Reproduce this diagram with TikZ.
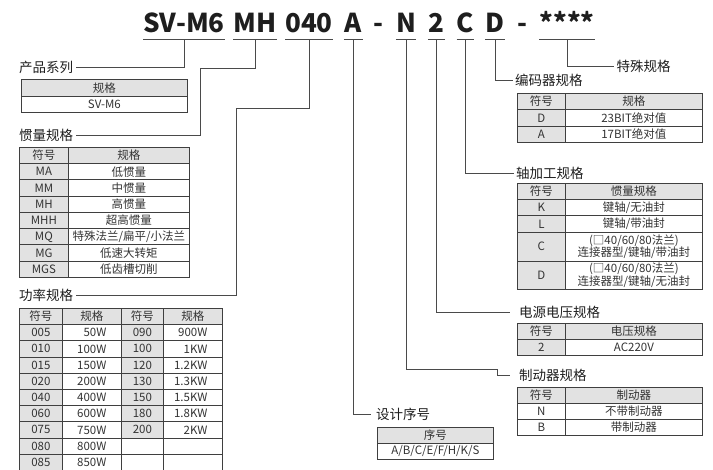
\documentclass[tikz,border=0pt]{standalone}
\usepackage{fontspec}
\setmainfont{Noto Sans CJK SC}
\usepackage{tikz}
\definecolor{codeink}{HTML}{1E1E1E}
\definecolor{tabline}{HTML}{3F3F3F}
\definecolor{tabgray}{HTML}{E2E2E2}
\definecolor{tabink}{HTML}{333333}
\definecolor{leadline}{HTML}{4A4A4A}
\newcommand{\tabfont}{\fontsize{11.5}{12.5}\selectfont}
\newcommand{\lblfont}{\fontsize{13.5}{14}\selectfont}

\begin{document}
\begin{tikzpicture}[x=1pt,y=-1pt,
    code/.style={font=\fontsize{26}{26}\selectfont\bfseries,text=codeink,inner sep=0pt,
      text depth=7pt,anchor=south,minimum width=#1},
    code/.default=0pt,
    uline/.style={draw=leadline,line width=.8pt},
    lead/.style={draw=leadline,line width=.9pt},
    lbl/.style={font=\lblfont,text=codeink,inner sep=2.5pt,anchor=west},
    cell/.style={draw=tabline,line width=.8pt,inner sep=0pt,anchor=north west,
      font=\tabfont,text=tabink,minimum height=16.2pt,align=center},
    gcell/.style={cell,fill=tabgray},
    wcell/.style={cell,fill=white}]
  \useasboundingbox (0,0) rectangle (713,470);

  % model code
  \node[code=72] (hSV) at (184,39.5) {SV-M6};
  \node[code=38] (hMH) at (255,39.5) {MH};
  \node[code=44] (hPW) at (309,39.5) {040};
  \node[code=19] (hDS) at (353.5,39.5) {A};
  \node[code] (hD1) at (378,39.5) {-};
  \node[code=17] (hBK) at (406,39.5) {N};
  \node[code=17] (hVT) at (436.5,39.5) {2};
  \node[code=16] (hSH) at (465.5,39.5) {C};
  \node[code=16] (hEN) at (495,39.5) {D};
  \node[code] (hD2) at (522,39.5) {-};
  \node[code=50] (hSP) at (567,39.5) {****};
  \foreach \n in {hSV,hMH,hPW,hDS,hBK,hVT,hSH,hEN,hSP}
    \draw[uline] (\n.south west) -- (\n.south east);

  % labels
  \node[lbl] (series) at (16.5,67) {产品系列};
  \node[lbl] (inertia) at (16.5,135) {惯量规格};
  \node[lbl] (power) at (16.5,295) {功率规格};
  \node[lbl] (special) at (614,66) {特殊规格};
  \node[lbl] (encoder) at (512.5,80) {编码器规格};
  \node[lbl] (shaft) at (513.5,173) {轴加工规格};
  \node[lbl,inner xsep=9pt] (voltage) at (510,312) {电源电压规格};
  \node[lbl,inner xsep=9pt] (brake) at (510,375) {制动器规格};
  \node[lbl,inner xsep=5pt] (design) at (371,414) {设计序号};

  % leaders
  \coordinate (mhBend) at (200,68);
  \coordinate (pwBend) at (236,108);
  \coordinate (bkBend) at (497,369);
  \draw[lead] (hSV.south) |- (series.east);
  \draw[lead] (hMH.south) |- (mhBend) |- (inertia.east);
  \draw[lead] (hPW.south) |- (pwBend) |- (power.east);
  \draw[lead] (hDS.south) |- (design.west);
  \draw[lead] (hBK.south) |- (bkBend) |- (brake.west);
  \draw[lead] (hVT.south) |- (voltage.west);
  \draw[lead] (hSH.south) |- (shaft.west);
  \draw[lead] (hEN.south) |- (encoder.west);
  \draw[lead] (hSP.south) |- (special.west);

  % product series
  \node[gcell,minimum width=166] (sr-h) at (21,79.5) {规格};
  \node[wcell,minimum width=166] (sr-1) at (21,95.7) {SV-M6};

  % inertia
  \node[gcell,minimum width=49,minimum height=16.25] (in-h1) at (19,147) {符号};
  \node[gcell,minimum width=121,minimum height=16.25] (in-h2) at (68,147) {规格};
  \foreach \s/\v [count=\i] in {MA/低惯量,MM/中惯量,MH/高惯量,MHH/超高惯量,
      MQ/{特殊法兰/扁平/小法兰},MG/低速大转矩,MGS/低齿槽切削} {
    \node[gcell,minimum width=49,minimum height=16.25] (in-s\i) at (19,{147+16.25*\i}) {\s};
    \node[wcell,minimum width=121,minimum height=16.25] (in-v\i) at (68,{147+16.25*\i}) {\v};
  }

  % power
  \node[gcell,minimum width=43] (pw-h1) at (19,308) {符号};
  \node[gcell,minimum width=59] (pw-h2) at (62,308) {规格};
  \node[gcell,minimum width=42] (pw-h3) at (121,308) {符号};
  \node[gcell,minimum width=59] (pw-h4) at (163,308) {规格};
  \foreach \s/\v [count=\i] in {005/50W,010/100W,015/150W,020/200W,040/400W,
      060/600W,075/750W,080/800W,085/850W} {
    \node[gcell,minimum width=43] (pw-a\i) at (19,{308+16.2*\i}) {\s};
    \node[wcell,minimum width=59] (pw-b\i) at (62,{308+16.2*\i}) {\makebox[29pt][r]{\v}};
  }
  \foreach \s/\v [count=\i] in {090/900W,100/1KW,120/1.2KW,130/1.3KW,150/1.5KW,
      180/1.8KW,200/2KW} {
    \node[gcell,minimum width=42] (pw-c\i) at (121,{308+16.2*\i}) {\s};
    \node[wcell,minimum width=59] (pw-d\i) at (163,{308+16.2*\i}) {\makebox[29pt][r]{\v}};
  }
  \foreach \i in {8,9} {
    \node[wcell,minimum width=42] (pw-c\i) at (121,{308+16.2*\i}) {};
    \node[wcell,minimum width=59] (pw-d\i) at (163,{308+16.2*\i}) {};
  }

  % encoder
  \node[gcell,minimum width=48,minimum height=16.3] (en-h1) at (517,93) {符号};
  \node[gcell,minimum width=137,minimum height=16.3] (en-h2) at (565,93) {规格};
  \foreach \s/\v [count=\i] in {D/23BIT绝对值,A/17BIT绝对值} {
    \node[gcell,minimum width=48,minimum height=16.3] (en-s\i) at (517,{93+16.3*\i}) {\s};
    \node[wcell,minimum width=137,minimum height=16.3] (en-v\i) at (565,{93+16.3*\i}) {\v};
  }

  % shaft
  \node[gcell,minimum width=48] (sh-h1) at (517,183) {符号};
  \node[gcell,minimum width=137] (sh-h2) at (565,183) {惯量规格};
  \foreach \s/\v [count=\i] in {K/{键轴/无油封},L/{键轴/带油封}} {
    \node[gcell,minimum width=48] (sh-s\i) at (517,{183+16.2*\i}) {\s};
    \node[wcell,minimum width=137] (sh-v\i) at (565,{183+16.2*\i}) {\v};
  }
  \node[gcell,minimum width=48,minimum height=29] (sh-s3) at (517,231.6) {C};
  \node[wcell,minimum width=137,minimum height=29] (sh-v3) at (565,231.6)
    {(□40/60/80法兰)\\连接器型/键轴/带油封};
  \node[gcell,minimum width=48,minimum height=28] (sh-s4) at (517,260.6) {D};
  \node[wcell,minimum width=137,minimum height=28] (sh-v4) at (565,260.6)
    {(□40/60/80法兰)\\连接器型/键轴/无油封};

  % voltage
  \node[gcell,minimum width=48,minimum height=16] (vt-h1) at (517,323) {符号};
  \node[gcell,minimum width=137,minimum height=16] (vt-h2) at (565,323) {电压规格};
  \node[gcell,minimum width=48,minimum height=16] (vt-s1) at (517,339) {2};
  \node[wcell,minimum width=137,minimum height=16] (vt-v1) at (565,339) {AC220V};

  % brake
  \node[gcell,minimum width=48,minimum height=16] (bk-h1) at (517,387) {符号};
  \node[gcell,minimum width=137,minimum height=16] (bk-h2) at (565,387) {制动器};
  \foreach \s/\v [count=\i] in {N/不带制动器,B/带制动器} {
    \node[wcell,minimum width=48,minimum height=16] (bk-s\i) at (517,{387+16*\i}) {\s};
    \node[wcell,minimum width=137,minimum height=16] (bk-v\i) at (565,{387+16*\i}) {\v};
  }

  % design
  \node[gcell,minimum width=116,minimum height=16] (ds-h) at (377,427) {序号};
  \node[wcell,minimum width=116,minimum height=16] (ds-1) at (377,443) {A/B/C/E/F/H/K/S};
\end{tikzpicture}
\end{document}
